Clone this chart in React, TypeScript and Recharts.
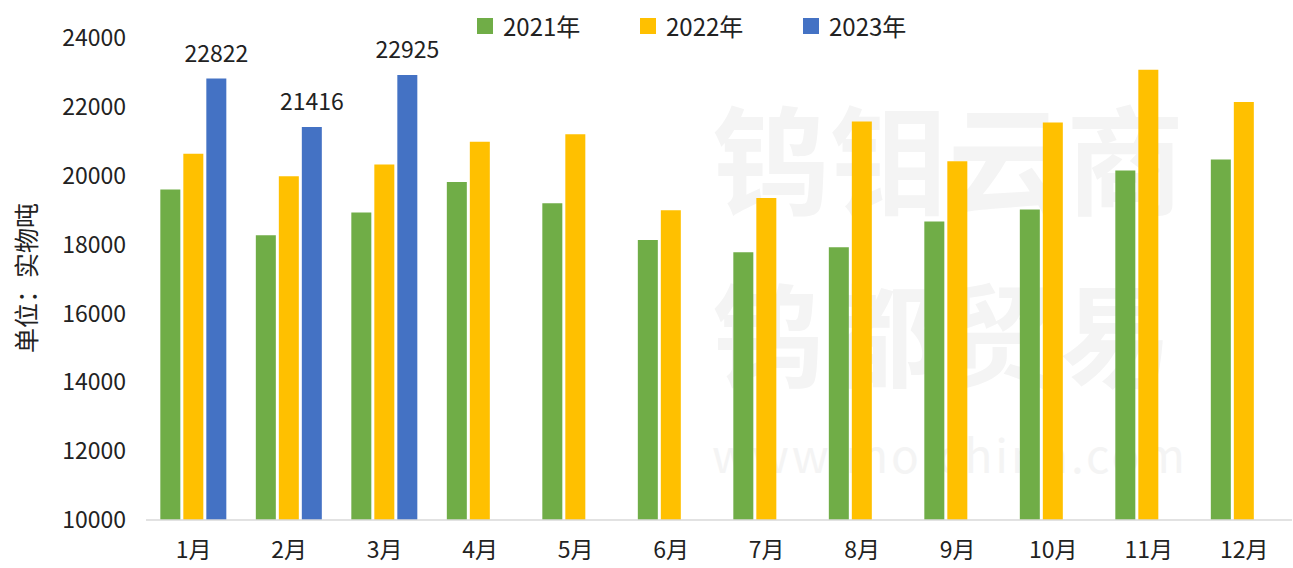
import { BarChart, Bar, XAxis, YAxis, LabelList } from 'recharts'

const months = ['1月', '2月', '3月', '4月', '5月', '6月', '7月', '8月', '9月', '10月', '11月', '12月']
const y2021 = [19600, 18270, 18930, 19820, 19200, 18130, 17780, 17920, 18670, 19020, 20150, 20470]
const y2022 = [20640, 19985, 20325, 20990, 21205, 19000, 19350, 21575, 20420, 21545, 23080, 22140]
const y2023 = [22822, 21416, 22925]
const yTicks = [10000, 12000, 14000, 16000, 18000, 20000, 22000, 24000]

const seriesNames = ['2021年', '2022年', '2023年']
const colors = ['#70AD47', '#FFC000', '#4472C4']

const data = months.map((m, i) => ({
  month: m,
  a: y2021[i],
  b: y2022[i],
  c: y2023[i] ?? null,
}))

const font = '"Noto Sans CJK SC", "Noto Sans", sans-serif'

function LegendBox() {
  return (
    <div style={{ display: 'flex', paddingLeft: 477, fontFamily: font }}>
      {seriesNames.map((n, i) => (
        <div key={n} style={{ width: 163, display: 'flex', alignItems: 'center' }}>
          <span style={{ width: 16, height: 16, background: colors[i], display: 'inline-block', marginRight: 10 }} />
          <span style={{ fontSize: 24, color: '#222' }}>{n}</span>
        </div>
      ))}
    </div>
  )
}

export default function App() {
  return (
    <div style={{ position: 'absolute', left: 0, top: 0, width: 1293, height: 568, background: '#fff', overflow: 'hidden', fontFamily: font }}>
      {/* watermark */}
      <div style={{ position: 'absolute', left: 712, top: 92, fontSize: 118, fontWeight: 700, color: '#f4f4f4', lineHeight: '125px', letterSpacing: 0 }}>
        钨钼云商
      </div>
      <div style={{ position: 'absolute', left: 712, top: 268, fontSize: 112, fontWeight: 700, color: '#f4f4f4', lineHeight: '125px', letterSpacing: 4 }}>
        钨都贸易
      </div>
      <div style={{ position: 'absolute', left: 712, top: 428, fontSize: 46, color: '#f4f4f4', lineHeight: '50px', letterSpacing: 3 }}>
        www.molchina.com
      </div>
      <div style={{ position: 'absolute', left: 25, top: 278, transform: 'translate(-50%, -50%) rotate(-90deg)', fontSize: 25, color: '#222', whiteSpace: 'nowrap' }}>
        单位：实物吨
      </div>
      <div style={{ position: 'absolute', left: 0, top: 0 }}>
        <BarChart
          width={1293}
          height={568}
          data={data}
          margin={{ top: 38, right: 1, bottom: 0, left: 0 }}
          barCategoryGap="15%"
          barGap={3}
        >
          <XAxis
            dataKey="month"
            height={48}
            axisLine={{ stroke: '#d9d9d9', strokeWidth: 1.5 }}
            tickLine={false}
            tickMargin={16}
            tick={{ fill: '#222', fontSize: 23, fontFamily: font }}
          />
          <YAxis
            width={146}
            domain={[10000, 24000]}
            ticks={yTicks}
            axisLine={false}
            tickLine={false}
            tickMargin={14}
            tick={{ fill: '#222', fontSize: 23, fontFamily: font }}
          />
          <Bar dataKey="a" name={seriesNames[0]} fill={colors[0]} isAnimationActive={false} />
          <Bar dataKey="b" name={seriesNames[1]} fill={colors[1]} isAnimationActive={false} />
          <Bar dataKey="c" name={seriesNames[2]} fill={colors[2]} isAnimationActive={false}>
            <LabelList dataKey="c" position="top" offset={17} fill="#222" fontSize={23} fontFamily={font} />
          </Bar>
        </BarChart>
      </div>
      <div style={{ position: 'absolute', left: 0, top: 8, width: 1293 }}>
        <LegendBox />
      </div>
    </div>
  )
}
